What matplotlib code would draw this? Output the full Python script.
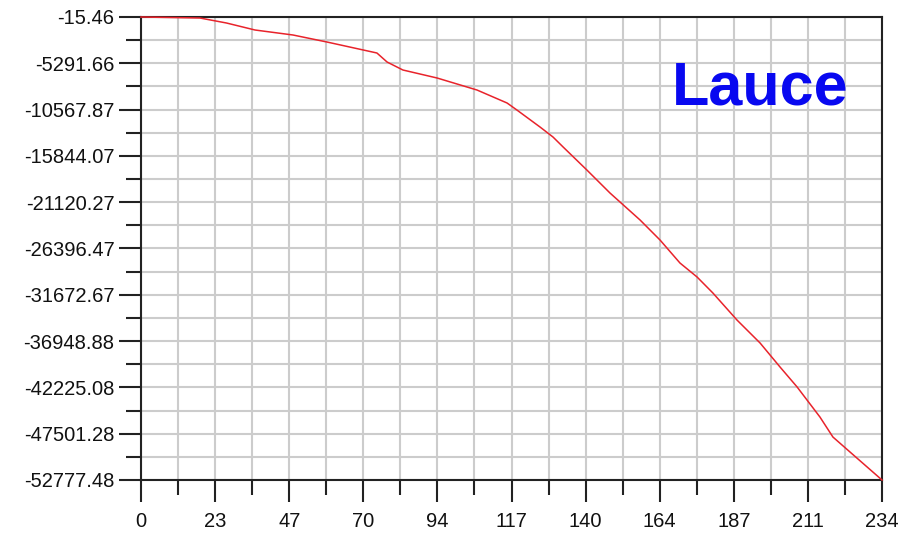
import numpy as np
import matplotlib.pyplot as plt

plt.rcParams['font.family'] = ['Liberation Sans', 'DejaVu Sans']

# values
x_vals = [0, 18.6, 27.0, 36.0, 48.0, 58.7, 74.5, 77.7, 82.7, 93.5, 106.1, 115.6, 118.7,
          126.0, 130.1, 133.3, 140.8, 148.1, 157.6, 163.9, 170.2, 175.6, 180.6,
          188.2, 195.5, 201.8, 207.2, 214.4, 218.5, 223.9, 234]
y_vals = [-15, -130, -700, -1497, -2067, -2864, -4118, -5144, -6055, -6967, -8335,
          -9816, -10614, -12551, -13691, -14830, -17452, -20073, -23149, -25429,
          -28050, -29645, -31469, -34546, -37167, -39902, -42181, -45600, -47880,
          -49589, -52777]

x_labels = ['0', '23', '47', '70', '94', '117', '140', '164', '187', '211', '234']
y_labels = ['-15.46', '-5291.66', '-10567.87', '-15844.07', '-21120.27', '-26396.47',
            '-31672.67', '-36948.88', '-42225.08', '-47501.28', '-52777.48']
title = 'Lauce'

x_min, x_max = 0, 234
y_top, y_bot = -15.46, -52777.48

fig = plt.figure(figsize=(9, 5.34), dpi=100)
ax = fig.add_axes([141 / 900, 54 / 534, 741 / 900, 463 / 534])

ax.plot(x_vals, y_vals, color='#e8232b', linewidth=1.1, zorder=3, clip_on=False)

xt = np.linspace(x_min, x_max, len(x_labels))
yt = np.linspace(y_bot, y_top, len(y_labels))[::-1]
ax.set_xticks(xt)
ax.set_xticklabels(x_labels)
ax.set_yticks(yt)
ax.set_yticklabels(y_labels)
ax.set_xticks((xt[:-1] + xt[1:]) / 2, minor=True)
ax.set_yticks((yt[:-1] + yt[1:]) / 2, minor=True)

ax.set_xlim(x_min, x_max)
ax.set_ylim(y_bot, y_top)

ax.grid(True, which='both', color='#cccccc', linewidth=1.5, zorder=0)
ax.set_axisbelow(True)

ax.tick_params(which='major', length=16, width=1.5, color='#222222',
               labelsize=14.5, labelcolor='#111111')
ax.tick_params(axis='x', which='major', pad=7)
ax.tick_params(axis='y', which='major', pad=3)
ax.tick_params(which='minor', length=11, width=1.5, color='#222222')

for s in ax.spines.values():
    s.set_linewidth(1.5)
    s.set_color('#222222')

fig.text(760 / 900, 1 - 89 / 534, title, color='#0808f0', fontsize=44,
         fontweight='bold', ha='center', va='center', zorder=4)

fig.savefig('out.png', dpi=100, facecolor='white')
